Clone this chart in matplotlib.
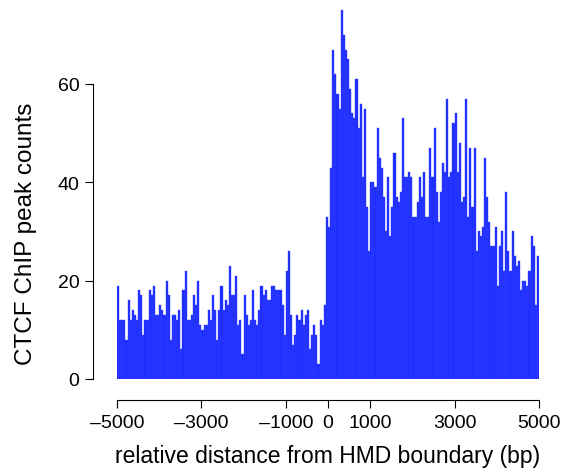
import matplotlib.pyplot as plt
import numpy as np

plt.rcParams['font.family'] = ['Liberation Sans', 'DejaVu Sans']

# peak counts in 50 bp bins from -5000 to +5000 bp
bin_width = 50
counts = [
    19, 12, 12, 12, 8, 16, 12, 14, 13, 12, 18, 17, 9, 12, 12, 18, 17, 19, 13, 13, 15,
    14, 13, 20, 17, 8, 13, 13, 12, 14, 6, 18, 22, 12, 12, 13, 17, 15, 20, 11, 10, 11,
    11, 14, 12, 17, 14, 8, 14, 19, 14, 16, 15, 23, 17, 17, 21, 11, 12, 5, 17, 13, 11, 12,
    18, 12, 11, 14, 19, 17, 18, 16, 16, 19, 19, 18, 18, 18, 15, 9, 22, 26, 13, 7, 9, 13,
    12, 14, 11, 13, 14, 6, 9, 11, 9, 3, 12, 11, 15,
    33, 31, 43, 67, 62, 58, 55, 75, 70, 67, 65, 59, 54, 53, 61, 51, 56, 41, 55, 35, 26,
    40, 40, 39, 51, 45, 43, 37, 30, 41, 29, 35, 46, 37, 36, 38, 53, 41, 41, 42, 41, 33, 33,
    36, 41, 37, 42, 33, 33, 47, 41, 51, 38, 32, 38, 44, 42, 57, 41, 42, 52, 54, 42, 48, 36,
    37, 57, 33, 47, 35, 47, 26, 30, 29, 31, 45, 37, 32, 27, 27, 31, 19, 27, 30, 22,
    38, 26, 22, 30, 25, 23, 24, 18, 20, 20, 19, 22, 29, 27, 15, 25,
]
bin_starts = np.arange(-5000, 5000, bin_width)

xticks = [-5000, -3000, -1000, 0, 1000, 3000, 5000]
xtick_labels = ['\u20135000', '\u20133000', '\u20131000', '0', '1000', '3000', '5000']
yticks = [0, 20, 40, 60]

fig = plt.figure(figsize=(5.67, 4.77), dpi=100)
ax = fig.add_axes([117 / 567, 1 - 380 / 477, 422 / 567, 76 * 4.917 / 477])

ax.bar(bin_starts, counts, width=bin_width, align='edge',
       color='#1c2bff', edgecolor='#3a4aff', linewidth=0.3)

ax.set_xlim(-5000, 5000)
ax.set_ylim(0, 76)

for s in ['top', 'right']:
    ax.spines[s].set_visible(False)
ax.spines['left'].set_position(('outward', 17))
ax.spines['bottom'].set_position(('outward', 15))
ax.spines['left'].set_bounds(0, 60)
ax.spines['bottom'].set_bounds(-5000, 5000)
ax.spines['left'].set_linewidth(0.8)
ax.spines['bottom'].set_linewidth(0.8)

ax.set_xticks(xticks)
ax.set_xticklabels(xtick_labels)
ax.set_yticks(yticks)
ax.tick_params(length=6, width=0.8, labelsize=14, pad=4)

ax.set_xlabel('relative distance from HMD boundary (bp)', fontsize=16.5)
ax.set_ylabel('CTCF ChIP peak counts', fontsize=17.5)
ax.xaxis.set_label_coords(0.5, -0.175)
ax.yaxis.set_label_coords(-0.19, 0.39)

fig.savefig('out.png', dpi=100)
